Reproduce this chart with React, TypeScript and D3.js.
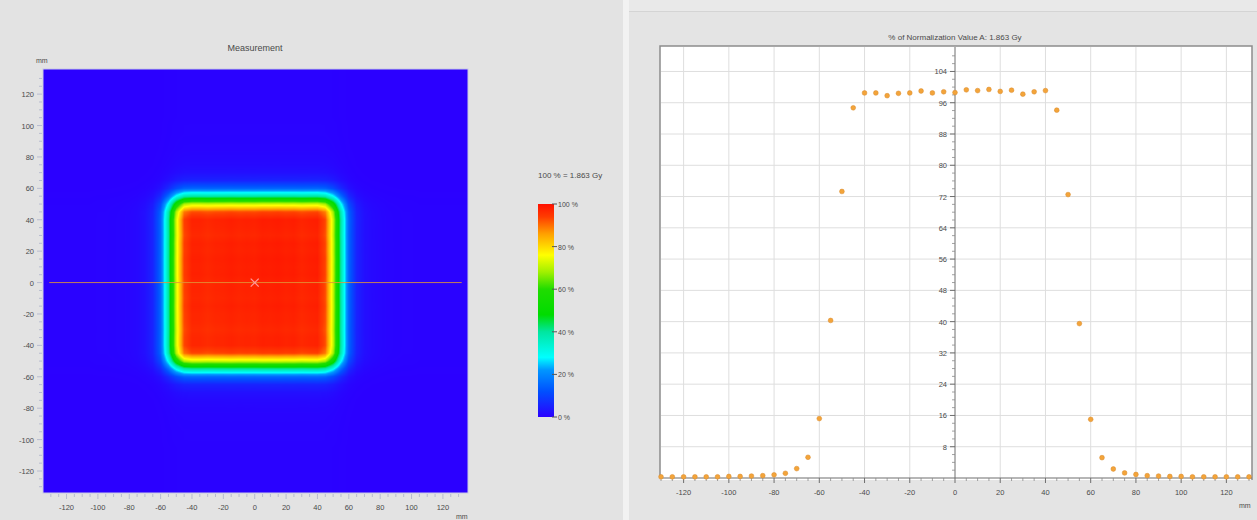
import React, { useMemo } from "react";
import * as d3 from "d3";

// Profile positions (mm) and relative dose (%)
const POS = [-130, -125, -120, -115, -110, -105, -100, -95, -90, -85, -80, -75, -70, -65, -60, -55, -50, -45, -40, -35, -30, -25, -20, -15, -10, -5, 0, 5, 10, 15, 20, 25, 30, 35, 40, 45, 50, 55, 60, 65, 70, 75, 80, 85, 90, 95, 100, 105, 110, 115, 120, 125, 130];
const DOSE = [0.3, 0.3, 0.3, 0.3, 0.3, 0.3, 0.4, 0.4, 0.5, 0.6, 0.8, 1.2, 2.4, 5.3, 15.2, 40.3, 73.3, 94.7, 98.5, 98.5, 97.8, 98.4, 98.5, 99.0, 98.5, 98.8, 98.6, 99.3, 99.1, 99.4, 98.9, 99.2, 98.2, 98.8, 99.1, 94.1, 72.5, 39.5, 15.0, 5.2, 2.3, 1.3, 0.9, 0.6, 0.5, 0.4, 0.4, 0.3, 0.3, 0.3, 0.3, 0.3, 0.3];

const MM_TICKS = [-120, -100, -80, -60, -40, -20, 0, 20, 40, 60, 80, 100, 120];
const MM_MINOR = [-130, -125, -115, -110, -105, -95, -90, -85, -75, -70, -65, -55, -50, -45, -35, -30, -25, -15, -10, -5, 5, 10, 15, 25, 30, 35, 45, 50, 55, 65, 70, 75, 85, 90, 95, 105, 110, 115, 125, 130];
const PCT_TICKS = [8, 16, 24, 32, 40, 48, 56, 64, 72, 80, 88, 96, 104];
const PCT_MINOR = [2, 4, 6, 10, 12, 14, 18, 20, 22, 26, 28, 30, 34, 36, 38, 42, 44, 46, 50, 52, 54, 58, 60, 62, 66, 68, 70, 74, 76, 78, 82, 84, 86, 90, 92, 94, 98, 100, 102, 106, 108];
const BAR_TICKS = [0, 20, 40, 60, 80, 100];
const COLOR_STOPS = [0, 12, 22, 28, 40, 48, 60, 68, 76, 86, 94, 100];
const COLOR_VALUES = ["#2b00ff", "#0050ff", "#0096ff", "#00ffff", "#00e6a0", "#00dc00", "#20dc00", "#a0f000", "#ffff00", "#ffa000", "#ff3c00", "#ff1000"];

const FONT = "'Liberation Sans', Arial, sans-serif";
const TXT = "#4a4a4a";

export default function App() {
  // Left heat map scales
  const lx = d3.scaleLinear().domain([-135, 136]).range([43, 468]);
  const ly = d3.scaleLinear().domain([-134, 136]).range([493, 69]);
  const color = d3.scaleLinear<string>().domain(COLOR_STOPS).range(COLOR_VALUES).interpolate(d3.interpolateRgb).clamp(true);
  const profile = d3.scaleLinear().domain(POS).range(DOSE).clamp(true);

  // Colorbar
  const cy = d3.scaleLinear().domain([0, 100]).range([417, 204]);

  // Right profile scales
  const rx = d3.scaleLinear().domain([-130, 130]).range([661, 1249]);
  const ry = d3.scaleLinear().domain([0, 110]).range([478, 48]);

  const heatUrl = useMemo(() => {
    const [x0, x1] = lx.range();
    const [y1, y0] = ly.range();
    const w = Math.round(x1 - x0);
    const h = Math.round(y1 - y0);
    const canvas = document.createElement("canvas");
    canvas.width = w;
    canvas.height = h;
    const ctx = canvas.getContext("2d");
    if (!ctx) return "";
    const img = ctx.createImageData(w, h);
    const px = new Array(w);
    for (let i = 0; i < w; i++) px[i] = profile(lx.invert(x0 + i + 0.5));
    for (let j = 0; j < h; j++) {
      const py = profile(ly.invert(y0 + j + 0.5));
      for (let i = 0; i < w; i++) {
        const v = (px[i] * py) / 100;
        const c = d3.rgb(color(v));
        const k = (j * w + i) * 4;
        img.data[k] = c.r;
        img.data[k + 1] = c.g;
        img.data[k + 2] = c.b;
        img.data[k + 3] = 255;
      }
    }
    ctx.putImageData(img, 0, 0);
    return canvas.toDataURL();
  }, []);

  const [lx0, lx1] = lx.range();
  const [ly1, ly0] = ly.range();
  const [rx0, rx1] = rx.range();

  return (
    <svg width={1257} height={520} style={{ position: "absolute", left: 0, top: 0, fontFamily: FONT }}>
      <defs>
        <linearGradient id="cbar" x1="0" y1="1" x2="0" y2="0">
          {COLOR_STOPS.map((s, i) => (
            <stop key={i} offset={`${s}%`} stopColor={COLOR_VALUES[i]} />
          ))}
        </linearGradient>
      </defs>
      {/* backgrounds */}
      <rect x={0} y={0} width={1257} height={520} fill="#e4e4e4" />
      <rect x={0} y={0} width={623} height={520} fill="#e3e3e3" />
      <rect x={623} y={0} width={6} height={520} fill="#f2f2f2" />
      <rect x={629} y={0} width={628} height={11} fill="#e9e9e9" />
      <line x1={629} x2={1257} y1={11.5} y2={11.5} stroke="#d4d4d4" />

      {/* ===== Left: Measurement ===== */}
      <text x={255} y={51} textAnchor="middle" fontSize={9} fill={TXT}>Measurement</text>
      <text x={36} y={63} fontSize={7} fill={TXT}>mm</text>
      <image href={heatUrl} x={lx0} y={ly0} width={lx1 - lx0} height={ly1 - ly0} preserveAspectRatio="none" />
      <rect x={lx0} y={ly0} width={lx1 - lx0} height={ly1 - ly0} fill="none" stroke="#c8c8e6" strokeWidth={1} />
      {/* crosshair */}
      <line x1={lx(-131)} x2={lx(132)} y1={ly(0)} y2={ly(0)} stroke="#e0963a" strokeWidth={1} opacity={0.85} />
      <g stroke="#ff9a9a" strokeWidth={1.2}>
        <line x1={lx(0) - 4} x2={lx(0) + 4} y1={ly(0) - 4} y2={ly(0) + 4} />
        <line x1={lx(0) - 4} x2={lx(0) + 4} y1={ly(0) + 4} y2={ly(0) - 4} />
      </g>
      {/* left axis ticks */}
      {MM_TICKS.concat(MM_MINOR).filter((t) => ly(t) > ly0 && ly(t) < ly1).map((t) => (
        <line key={"lyt" + t} x1={lx0 - (MM_TICKS.includes(t) ? 6 : 4)} x2={lx0 - 1} y1={ly(t)} y2={ly(t)} stroke="#b8bcd0" strokeWidth={1} />
      ))}
      {MM_TICKS.map((t) => (
        <text key={"lyl" + t} x={lx0 - 9} y={ly(t) + 3} textAnchor="end" fontSize={7.5} fill={TXT}>{t}</text>
      ))}
      {MM_TICKS.concat(MM_MINOR).filter((t) => lx(t) > lx0 && lx(t) < lx1).map((t) => (
        <line key={"lxt" + t} x1={lx(t)} x2={lx(t)} y1={ly1 + 1} y2={ly1 + (MM_TICKS.includes(t) ? 6 : 4)} stroke="#b8bcd0" strokeWidth={1} />
      ))}
      {MM_TICKS.map((t) => (
        <text key={"lxl" + t} x={lx(t)} y={ly1 + 17} textAnchor="middle" fontSize={7.5} fill={TXT}>{t}</text>
      ))}
      <text x={456} y={519} fontSize={7} fill={TXT}>mm</text>

      {/* colorbar */}
      <text x={538} y={178} fontSize={8} fill={TXT}>100 % = 1.863 Gy</text>
      <rect x={538} y={cy(100)} width={16} height={cy(0) - cy(100)} fill="url(#cbar)" />
      {BAR_TICKS.map((t) => (
        <g key={"cb" + t}>
          <line x1={552} x2={557} y1={cy(t)} y2={cy(t)} stroke="#555" strokeWidth={1} />
          <text x={558} y={cy(t) + 3} fontSize={7} fill={TXT}>{t} %</text>
        </g>
      ))}

      {/* ===== Right: profile ===== */}
      <text x={955} y={40} textAnchor="middle" fontSize={8} fill={TXT}>% of Normalization Value A: 1.863 Gy</text>
      <rect x={rx0 - 1} y={46} width={rx1 - rx0 + 4} height={434} fill="#ffffff" />
      {/* grid */}
      {MM_TICKS.filter((t) => t !== 0).map((t) => (
        <line key={"rgx" + t} x1={rx(t)} x2={rx(t)} y1={47} y2={ry(0)} stroke="#dedede" strokeWidth={1} />
      ))}
      {PCT_TICKS.map((t) => (
        <line key={"rgy" + t} x1={rx0} x2={rx1 + 3} y1={ry(t)} y2={ry(t)} stroke="#dedede" strokeWidth={1} />
      ))}
      {/* frame */}
      <path d={`M${rx0 - 1},${ry(0)} V46 H${rx1 + 3} V480`} fill="none" stroke="#8c8c8c" strokeWidth={1.5} />
      {/* y axis at x=0 */}
      <line x1={rx(0)} x2={rx(0)} y1={47} y2={ry(0)} stroke="#6e6e6e" strokeWidth={1} />
      {PCT_MINOR.map((t) => (
        <line key={"rym" + t} x1={rx(0) - 3} x2={rx(0)} y1={ry(t)} y2={ry(t)} stroke="#8a8a8a" strokeWidth={0.8} />
      ))}
      {PCT_TICKS.map((t) => (
        <g key={"ryt" + t}>
          <line x1={rx(0) - 5} x2={rx(0)} y1={ry(t)} y2={ry(t)} stroke="#6e6e6e" strokeWidth={1} />
          <text x={rx(0) - 8} y={ry(t) + 3} textAnchor="end" fontSize={7.5} fill={TXT}>{t}</text>
        </g>
      ))}
      {/* x axis at y=0 */}
      <line x1={rx0 - 1} x2={rx1 + 3} y1={ry(0)} y2={ry(0)} stroke="#6e6e6e" strokeWidth={1.2} />
      {MM_MINOR.map((t) => (
        <line key={"rxm" + t} x1={rx(t)} x2={rx(t)} y1={ry(0)} y2={ry(0) + 3} stroke="#8a8a8a" strokeWidth={0.8} />
      ))}
      {MM_TICKS.map((t) => (
        <g key={"rxt" + t}>
          <line x1={rx(t)} x2={rx(t)} y1={ry(0)} y2={ry(0) + 5} stroke="#6e6e6e" strokeWidth={1} />
          <text x={rx(t)} y={ry(0) + 17} textAnchor="middle" fontSize={7.5} fill={TXT}>{t}</text>
        </g>
      ))}
      <text x={1239} y={508} fontSize={7} fill={TXT}>mm</text>
      {/* points */}
      {POS.map((p, i) => (
        <circle key={"pt" + p} cx={rx(p)} cy={ry(DOSE[i])} r={2.4} fill="#f3a43a" stroke="#d9892a" strokeWidth={0.5} />
      ))}
    </svg>
  );
}
